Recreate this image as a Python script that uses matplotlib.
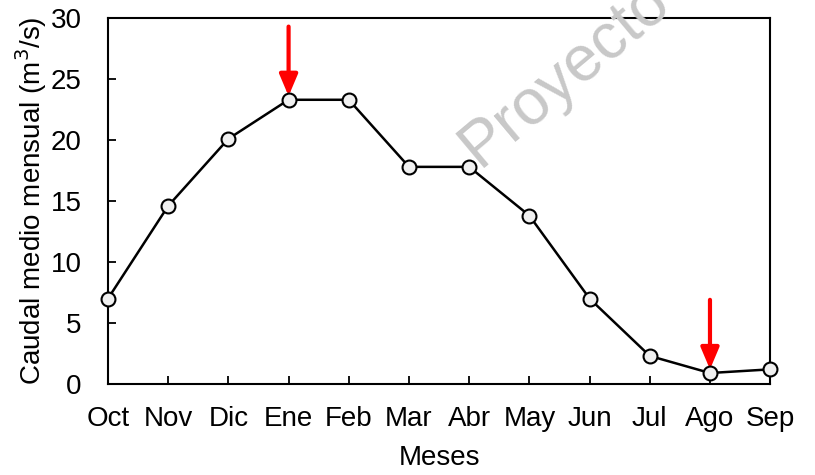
import matplotlib.pyplot as plt
import numpy as np

plt.rcParams['font.family'] = ['Liberation Sans', 'DejaVu Sans']

meses = ['Oct', 'Nov', 'Dic', 'Ene', 'Feb', 'Mar', 'Abr', 'May', 'Jun', 'Jul', 'Ago', 'Sep']
caudal = [7.0, 14.6, 20.1, 23.3, 23.3, 17.8, 17.8, 13.8, 7.0, 2.3, 0.9, 1.2]
flechas = ['Ene', 'Ago']

fig = plt.figure(figsize=(8.15, 4.75), dpi=100)
ax = fig.add_axes([0.1325, 0.1916, 0.8125, 0.7704])

x = np.arange(len(meses))
ax.plot(x, caudal, color='black', lw=1.8, marker='o', markersize=10,
        markerfacecolor='#f0f0f0', markeredgecolor='black', markeredgewidth=1.5,
        zorder=3, clip_on=False)

# flechas rojas sobre max y min
for m in flechas:
    i = meses.index(m)
    ax.annotate('', xy=(x[i], caudal[i] + 0.3), xytext=(x[i], caudal[i] + 6.0),
                arrowprops=dict(arrowstyle='-|>,head_width=0.55,head_length=1.3',
                                color='red', lw=3, shrinkA=0, shrinkB=0), zorder=2)

ax.set_xlim(0, len(meses) - 1)
ax.set_ylim(0, 30)
ax.set_yticks(np.arange(0, 31, 5))
ax.set_xticks(x)
ax.set_xticklabels(meses)
ax.tick_params(direction='in', labelsize=20, length=6, width=1.3)
ax.tick_params(axis='y', pad=19)
ax.tick_params(axis='x', pad=16)
for s in ax.spines.values():
    s.set_linewidth(1.5)

ax.set_ylabel('Caudal medio mensual (m$^3$/s)', fontsize=20, labelpad=1)
ax.set_xlabel('Meses', fontsize=20, labelpad=9)

# marca de agua
fig.text(0.693, 0.844, 'Proyecto', fontsize=46, color='#c8c8c8', rotation=40,
         rotation_mode='anchor', ha='center', va='center', zorder=0)

fig.savefig('out.png', dpi=100)
